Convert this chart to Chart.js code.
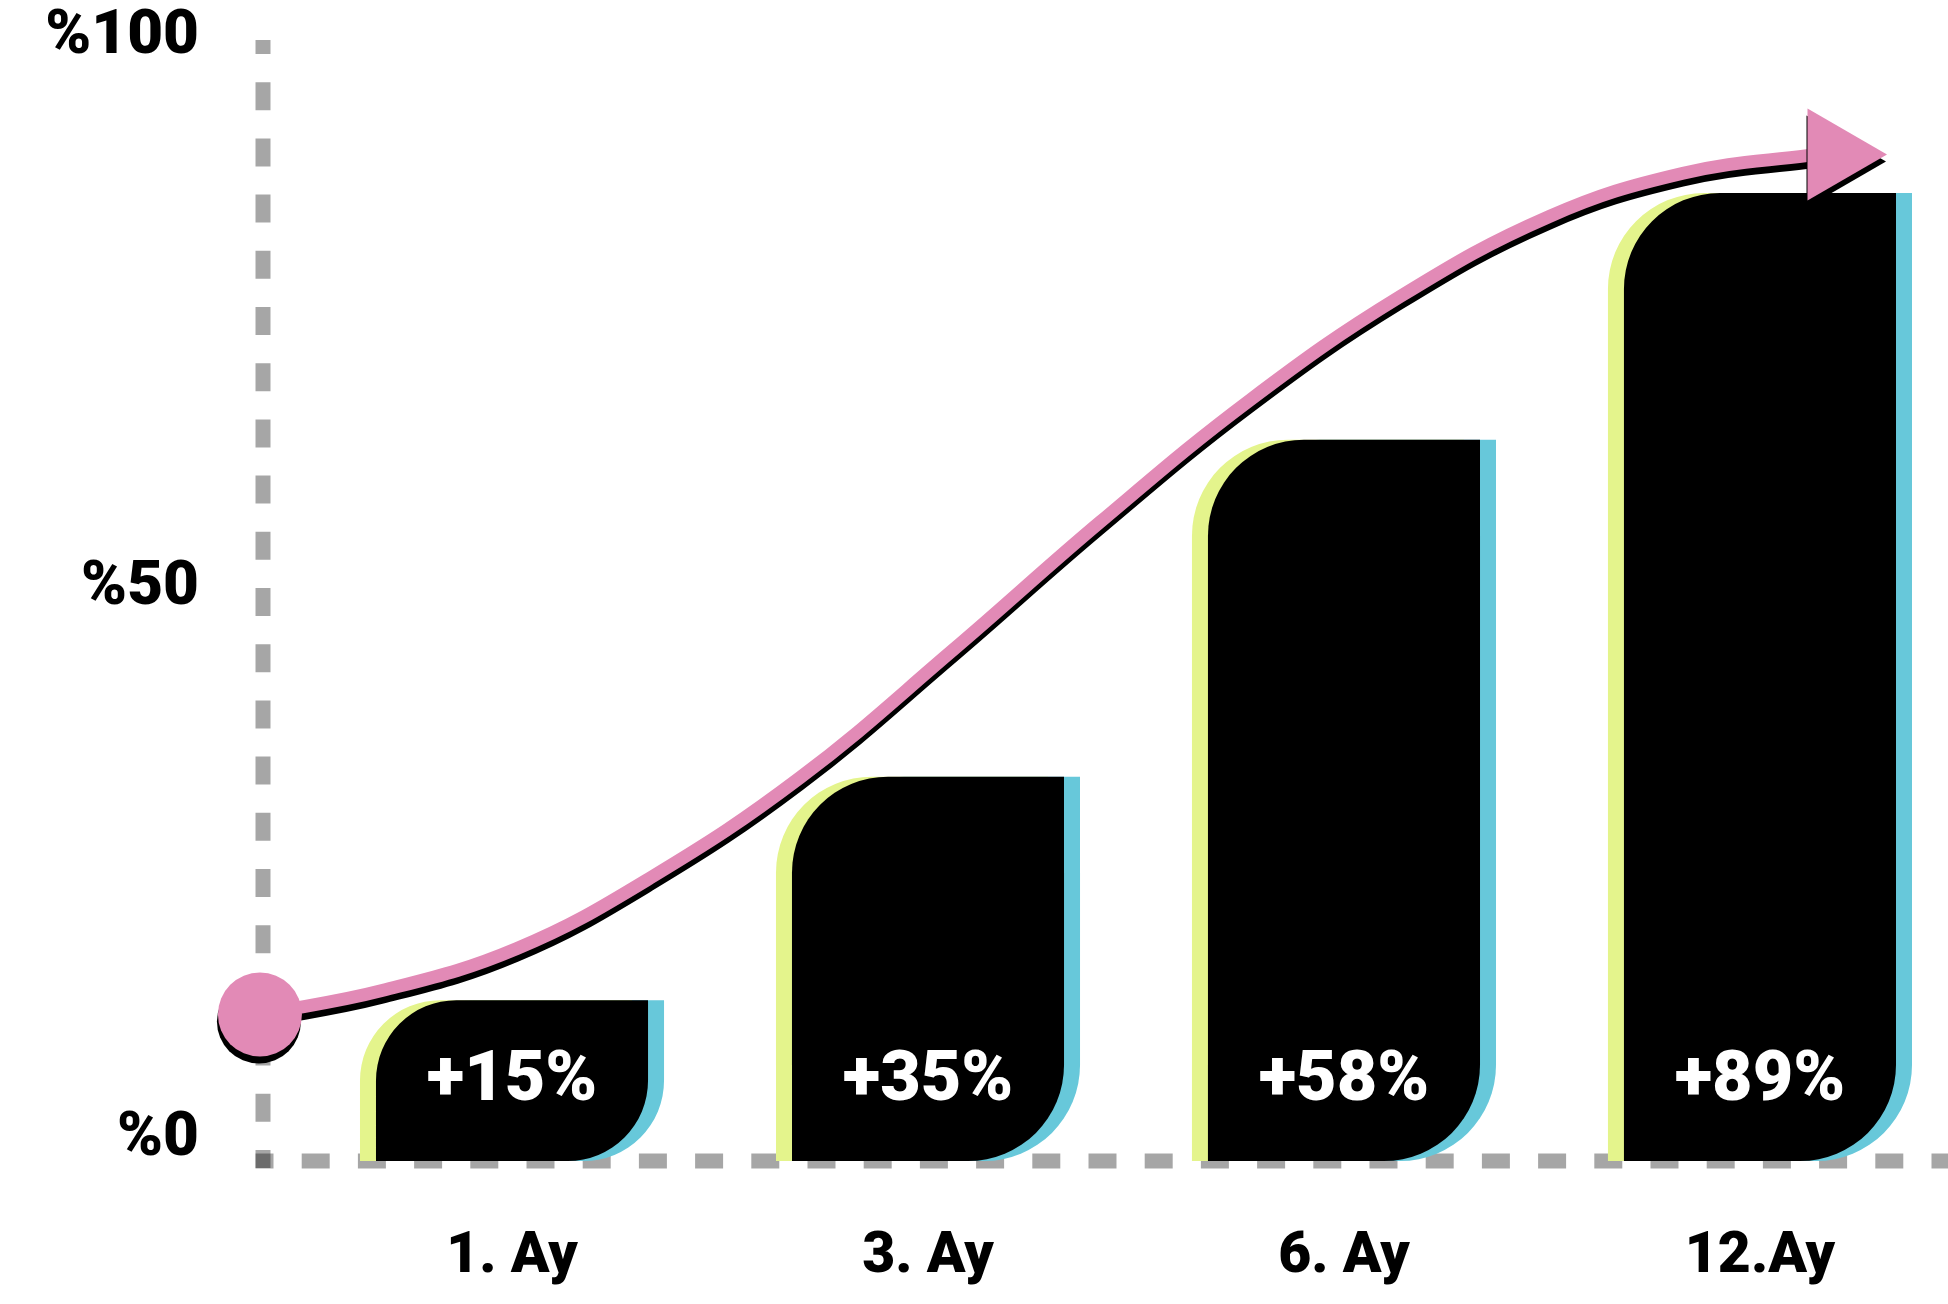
<!DOCTYPE html>
<html><head><meta charset="utf-8">
<script src="https://cdn.jsdelivr.net/npm/chart.js@4.4.0/dist/chart.umd.min.js"></script>
<style>html,body{margin:0;padding:0;background:#fff;overflow:hidden}#wrap{width:1948px;height:1304px}</style>
</head><body><div id="wrap"><canvas id="c" width="1948" height="1304"></canvas></div>
<script>
// ---- data ----
const categories = ['1. Ay', '3. Ay', '6. Ay', '12.Ay'];
const barValues = [14.6, 34.9, 65.5, 87.9];
const barLabels = ['+15%', '+35%', '+58%', '+89%'];
const yTickValues = [0, 50, 100];
const yTickLabels = ['%0', '%50', '%100'];
// trend curve (x in category units, y in %)
const curveX = [-0.606, -0.310, 0.012, 0.332, 0.692, 1.060, 1.413, 1.774, 2.135, 2.495, 2.815, 3.113, 3.178];
const curveY = [13.3, 15.5, 19.3, 25.7, 34.8, 46.4, 58.0, 69.1, 78.5, 85.8, 89.7, 91.3, 91.4];

// ---- styles ----
const PINK = '#E28AB6', LIME = '#E4F48C', CYAN = '#67C8DA', BLACK = '#000000';
const GRID = 'rgba(0,0,0,0.35)';
const FONT = 'Roboto';

const barData = categories.map((c, i) => ({x: i, y: barValues[i]}));
const curveData = curveX.map((x, i) => ({x: x, y: curveY[i]}));
const lastIdx = curveX.length - 1;

const axisLines = {
  id: 'axisLines',
  beforeDatasetsDraw(chart) {
    const {ctx, chartArea} = chart;
    const y0 = chart.scales.y.getPixelForValue(0);
    ctx.save();
    ctx.strokeStyle = GRID; ctx.lineWidth = 15; ctx.lineCap = 'butt';
    ctx.setLineDash([28, 28.2]);
    ctx.lineDashOffset = 14;
    ctx.beginPath(); ctx.moveTo(chartArea.left, chartArea.top); ctx.lineTo(chartArea.left, y0 + 7); ctx.stroke();
    ctx.lineDashOffset = 10;
    ctx.beginPath(); ctx.moveTo(chartArea.left - 7.5, y0); ctx.lineTo(chart.width, y0); ctx.stroke();
    ctx.restore();
  }
};
const effects = {
  id: 'effects',
  beforeDatasetDraw(chart, args) {
    const ds = chart.data.datasets[args.index];
    const ctx = chart.ctx;
    ctx.save();
    if (ds.shiftX) ctx.translate(ds.shiftX, 0);
    if (ds.shadow) { ctx.shadowColor = '#000'; ctx.shadowBlur = 0; ctx.shadowOffsetX = -1; ctx.shadowOffsetY = 7; }
  },
  afterDatasetDraw(chart) { chart.ctx.restore(); }
};
const valueLabels = {
  id: 'valueLabels',
  afterDatasetsDraw(chart) {
    const ctx = chart.ctx;
    const idx = chart.data.datasets.findIndex(d => d.label === 'main');
    const meta = chart.getDatasetMeta(idx);
    const y0 = chart.scales.y.getPixelForValue(0);
    ctx.save();
    ctx.fillStyle = '#fff';
    ctx.font = `900 70px ${FONT}`;
    ctx.textAlign = 'center'; ctx.textBaseline = 'middle';
    meta.data.forEach((el, i) => ctx.fillText(barLabels[i], el.x, y0 - 79));
    ctx.restore();
  }
};

const barCommon = {
  grouped: false,
  categoryPercentage: 1,
  barPercentage: 0.654,
  borderRadius: {topLeft: 96, topRight: 0, bottomLeft: 0, bottomRight: 96},
  borderSkipped: false,
  borderWidth: 0
};

new Chart(document.getElementById('c'), {
  type: 'bar',
  data: {
    datasets: [
      {
        type: 'line', label: 'trend', data: curveData,
        borderColor: PINK, borderWidth: 13, fill: false,
        tension: 0.4,
        pointRadius: c => c.dataIndex === 0 ? 42 : (c.dataIndex === lastIdx ? 53 : 0),
        pointStyle: c => c.dataIndex === lastIdx ? 'triangle' : 'circle',
        pointRotation: c => c.dataIndex === lastIdx ? 90 : 0,
        pointBackgroundColor: PINK, pointBorderWidth: 0,
        clip: false, order: 0, shadow: true
      },
      Object.assign({label: 'main', data: barData, backgroundColor: BLACK, order: 1}, barCommon),
      Object.assign({label: 'lime', data: barData, backgroundColor: LIME, order: 2, shiftX: -16}, barCommon),
      Object.assign({label: 'cyan', data: barData, backgroundColor: CYAN, order: 3, shiftX: 16}, barCommon)
    ]
  },
  options: {
    responsive: false, devicePixelRatio: 1, animation: false, events: [],
    layout: {autoPadding: false, padding: {top: 40, left: 0, right: 0, bottom: 0}},
    plugins: {legend: {display: false}, tooltip: {enabled: false}},
    scales: {
      x: {
        type: 'linear', min: -0.5986, max: 3.452, offset: false,
        grid: {display: false, drawTicks: false}, border: {display: false},
        afterBuildTicks: s => { s.ticks = categories.map((c, i) => ({value: i})); },
        ticks: {
          callback: v => categories[v], padding: 63, maxRotation: 0, autoSkip: false,
          font: {family: FONT, weight: 900, size: 57}, color: '#000'
        },
        afterFit: s => { s.height = 143; s.paddingLeft = 0; s.paddingRight = 0; }
      },
      y: {
        min: 0, max: 101.8,
        grid: {display: false, drawTicks: false}, border: {display: false},
        afterBuildTicks: s => { s.ticks = yTickValues.map(v => ({value: v})); },
        ticks: {
          callback: v => yTickLabels[yTickValues.indexOf(v)], padding: 64, labelOffset: -22,
          font: {family: FONT, weight: 900, size: 62}, color: '#000'
        },
        afterFit: s => { s.width = 263; s.paddingTop = 0; s.paddingBottom = 0; }
      }
    }
  },
  plugins: [axisLines, effects, valueLabels]
});
</script></body></html>
